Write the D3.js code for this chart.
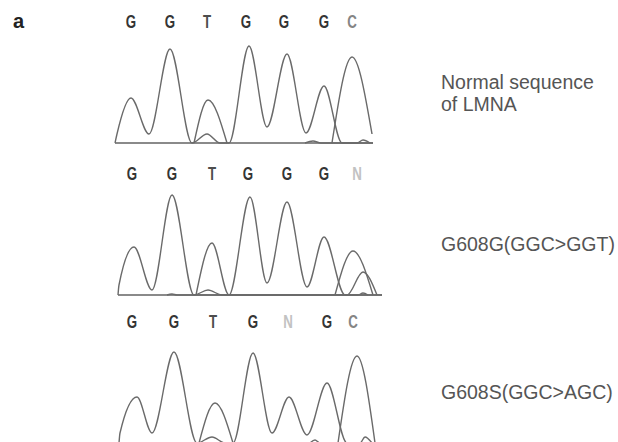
<!DOCTYPE html>
<html>
<head>
<meta charset="utf-8">
<script src="https://cdn.jsdelivr.net/npm/d3@7"></script>
<style>
  body { margin: 0; background: #fff; }
  svg { display: block; }
</style>
</head>
<body>
<div id="chart"></div>
<script>
// scan positions (x) and signal intensity (y)
const normalBases = ["G", "G", "T", "G", "G", "G", "C"];
const normalBasePos = [21, 60, 97, 136, 174, 214, 242];
const normalG = [[5, 0], [7, 9], [21, 45], [39, 9], [60, 94], [82, 0], [97, 9], [110, 0], [119, 0], [139, 97], [157, 16], [177, 89], [196, 10], [214, 57], [232, 0], [263, 0]];
const normalT = [[84, 0], [98, 43], [117, 0]];
const normalC = [[222, 0], [242, 86], [262, 9]];
const normalA = [[195, 0], [203, 2], [211, 0], [247, 0], [253, 3], [260, 0]];
const normalLabel = ["Normal sequence", "of LMNA"];

const silentBases = ["G", "G", "T", "G", "G", "G", "N"];
const silentBasePos = [22, 62, 102, 138, 177, 214, 247];
const silentG = [[8, 0], [9, 10], [24, 48], [42, 5], [62, 100], [84, 0], [98, 5], [112, 0], [119, 0], [140, 98], [157, 12], [177, 93], [197, 8], [214, 58], [235, 0], [272, 0]];
const silentT = [[86, 0], [102, 52], [119, 0], [237, 0], [253, 23], [267, 0]];
const silentC = [[225, 0], [243, 44], [263, 0]];
const silentA = [[57, 0], [62, 1], [67, 0], [248, 0], [253, 2], [258, 0]];
const silentLabel = ["G608G(GGC>GGT)"];

const missenseBases = ["G", "G", "T", "G", "N", "G", "C"];
const missenseBasePos = [22, 64, 103, 143, 178, 217, 243];
const missenseG = [[9, 0], [10, 10], [27, 46], [42, 10], [64, 91], [87, 0], [102, 6], [115, 0], [123, 0], [143, 90], [162, 10], [179, 46], [197, 8], [217, 60], [237, 0], [268, 0]];
const missenseT = [[89, 0], [105, 40], [123, 0]];
const missenseC = [[228, 0], [247, 87], [265, 0]];
const missenseA = [[200, 0], [205, 3], [210, 0], [250, 0], [255, 6], [262, 0]];
const missenseLabel = ["G608S(GGC>AGC)"];

const panels = [
  { bases: normalBases, pos: normalBasePos, traces: [normalG, normalT, normalC, normalA], label: normalLabel, base: 143, labelY: 89 },
  { bases: silentBases, pos: silentBasePos, traces: [silentG, silentT, silentC, silentA], label: silentLabel, base: 295, labelY: 251 },
  { bases: missenseBases, pos: missenseBasePos, traces: [missenseG, missenseT, missenseC, missenseA], label: missenseLabel, base: 443, labelY: 399 }
];

const width = 618, height = 442;
const letterColor = { G: "#353535", T: "#4d4d4d", C: "#858585", N: "#c2c2c2" };

const svg = d3.select("#chart").append("svg")
  .attr("width", width)
  .attr("height", height);

svg.append("text")
  .attr("x", 13)
  .attr("y", 28)
  .attr("font-family", "Liberation Sans, Arial, sans-serif")
  .attr("font-weight", "bold")
  .attr("font-size", 20)
  .attr("fill", "#222")
  .text("a");

// one scan axis shared by all three traces
const x = d3.scaleLinear().domain([0, 270]).range([110, 380]);

panels.forEach(function (p) {
  const y = d3.scaleLinear().domain([0, 100]).range([p.base, p.base - 100]);
  const g = svg.append("g");

  // baseline
  const allX = p.traces.flat().map(d => d[0]);
  g.append("line")
    .attr("x1", x(d3.min(allX)))
    .attr("x2", x(d3.max(allX)))
    .attr("y1", y(0))
    .attr("y2", y(0))
    .attr("stroke", "#8a8a8a")
    .attr("stroke-width", 2);

  const line = d3.line()
    .x(d => x(d[0]))
    .y(d => y(d[1]))
    .curve(d3.curveMonotoneX);

  g.selectAll("path.trace")
    .data(p.traces)
    .enter()
    .append("path")
    .attr("class", "trace")
    .attr("d", line)
    .attr("fill", "none")
    .attr("stroke", "#6a6a6a")
    .attr("stroke-width", 1.4);

  // base calls above the trace
  g.selectAll("text.base")
    .data(p.bases)
    .enter()
    .append("text")
    .attr("class", "base")
    .attr("transform", (d, i) => `translate(${x(p.pos[i])},${y(115)}) scale(0.72,1)`)
    .attr("text-anchor", "middle")
    .attr("font-family", "Liberation Sans, Arial, sans-serif")
    .attr("font-weight", "bold")
    .attr("font-size", 18.5)
    .attr("fill", d => letterColor[d])
    .text(d => d);

  g.selectAll("text.label")
    .data(p.label)
    .enter()
    .append("text")
    .attr("class", "label")
    .attr("x", 441)
    .attr("y", (d, i) => p.labelY + i * 22)
    .attr("font-family", "Liberation Sans, Arial, sans-serif")
    .attr("font-size", 19.5)
    .attr("fill", "#555")
    .text(d => d);
});
</script>
</body>
</html>
